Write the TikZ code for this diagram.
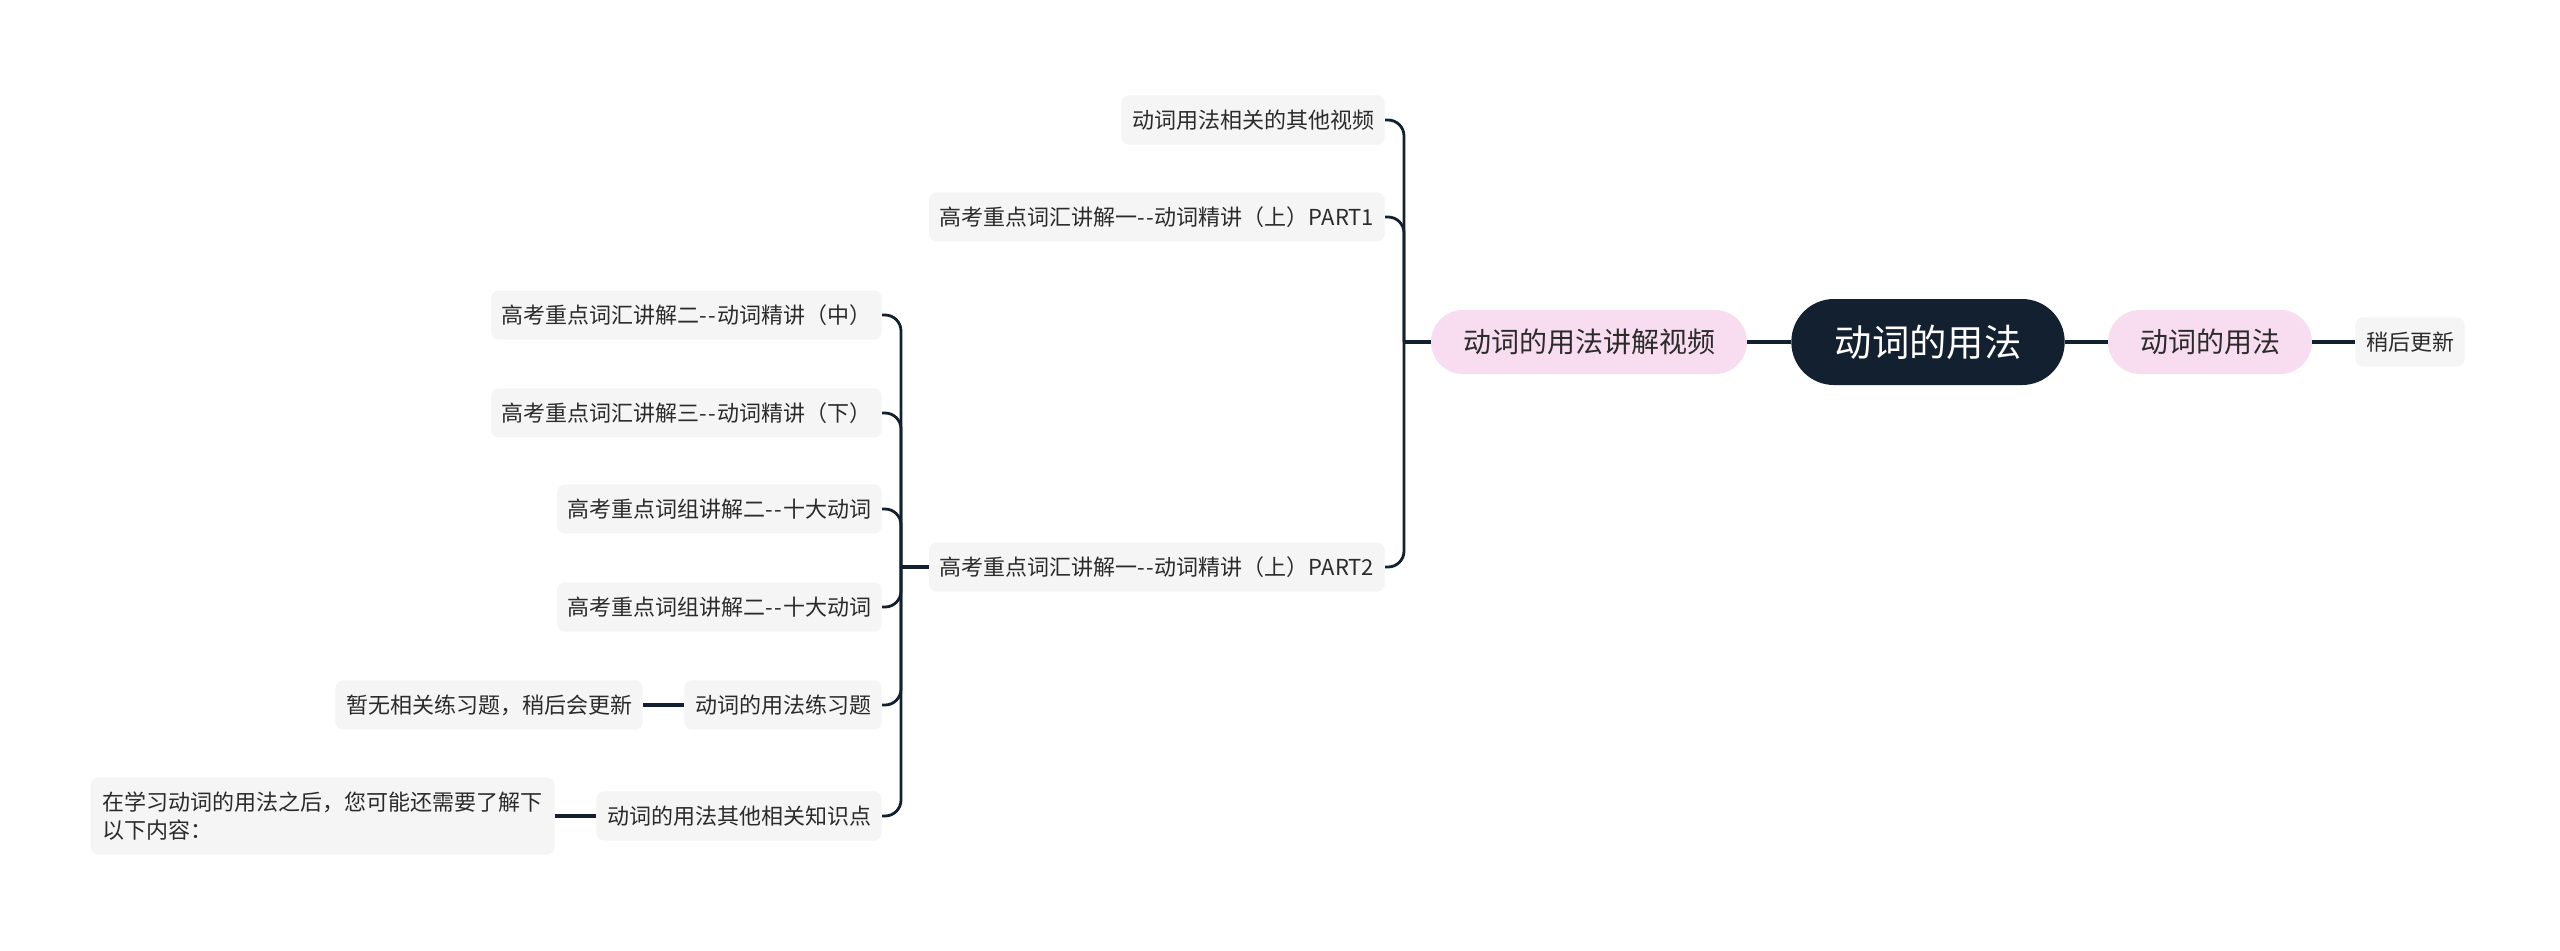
\documentclass[tikz,border=0pt]{standalone}
\usepackage{fontspec}
\setmainfont{Noto Sans CJK SC}
\definecolor{navy}{HTML}{13202F}
\definecolor{pinkfill}{HTML}{F7DDEF}
\definecolor{leafgray}{HTML}{F5F5F5}
\definecolor{textdark}{HTML}{2B2B2B}
\newcommand{\dd}{-\kern1pt-\kern0.5pt}
\begin{document}
\begin{tikzpicture}[x=0.75pt,y=-0.75pt,
  leaf/.style={fill=leafgray, rounded corners=6pt, inner xsep=8pt, inner ysep=0pt, minimum height=37pt, text=textdark, font=\fontsize{16.5}{21}\selectfont},
  pinkbox/.style={fill=pinkfill, rounded corners=24pt, inner xsep=24pt, inner ysep=0pt, minimum height=48pt, text=textdark, font=\fontsize{21}{25}\selectfont},
  rootbox/.style={fill=navy, text=white, rounded corners=32pt, inner xsep=30pt, minimum height=64.5pt, minimum width=205pt, font=\fontsize{28}{32}\selectfont},
  conn/.style={draw=navy, line width=2.4pt},
  br/.style={draw=navy, line width=2.1pt, rounded corners=12pt}]
\useasboundingbox (0,0) rectangle (2560,950);
\fill[white] (0,0) rectangle (2560,950);

% nodes
\node[rootbox] (root) at (1928,342) {动词的用法};
\node[pinkbox] (rp) at (2210,342) {动词的用法};
\node[leaf] (later) at (2410,342) {稍后更新};
\node[pinkbox] (lp) at (1589,342) {动词的用法讲解视频};

\node[leaf, anchor=east] (c1) at (1385,120) {动词用法相关的其他视频};
\node[leaf, anchor=east] (c2) at (1385,217) {高考重点词汇讲解一\dd 动词精讲（上）PART1};
\node[leaf, anchor=east] (c3) at (1385,567) {高考重点词汇讲解一\dd 动词精讲（上）PART2};

\node[leaf, anchor=east] (d1) at (882,315) {高考重点词汇讲解二\dd 动词精讲（中）};
\node[leaf, anchor=east] (d2) at (882,413) {高考重点词汇讲解三\dd 动词精讲（下）};
\node[leaf, anchor=east] (d3) at (882,509) {高考重点词组讲解二\dd 十大动词};
\node[leaf, anchor=east] (d4) at (882,607) {高考重点词组讲解二\dd 十大动词};
\node[leaf, anchor=east] (d5) at (882,705) {动词的用法练习题};
\node[leaf, anchor=east] (d6) at (882,816) {动词的用法其他相关知识点};

\node[leaf, anchor=east] (e1) at (643,705) {暂无相关练习题，稍后会更新};
\node[leaf, anchor=east, align=left, minimum height=58pt, inner xsep=9pt] (e2) at (555,816) {在学习动词的用法之后，您可能还需要了解下\\以下内容：};

% connectors
\draw[conn] (root.west) -- (lp.east);
\draw[conn] (root.east) -- (rp.west);
\draw[conn] (rp.east) -- (later.west);

\coordinate (b1) at (1404,342);
\draw[conn] (lp.west) -- (b1);
\draw[br] (b1) |- (c1.east);
\draw[br] (b1) |- (c2.east);
\draw[br] (b1) |- (c3.east);

\coordinate (b2) at (901,567);
\draw[conn] (c3.west) -- (b2);
\draw[br] (b2) |- (d1.east);
\draw[br] (b2) |- (d2.east);
\draw[br] (b2) |- (d3.east);
\draw[br] (b2) |- (d4.east);
\draw[br] (b2) |- (d5.east);
\draw[br] (b2) |- (d6.east);

\draw[conn] (d5.west) -- (e1.east);
\draw[conn] (d6.west) -- (e2.east);
\end{tikzpicture}
\end{document}
